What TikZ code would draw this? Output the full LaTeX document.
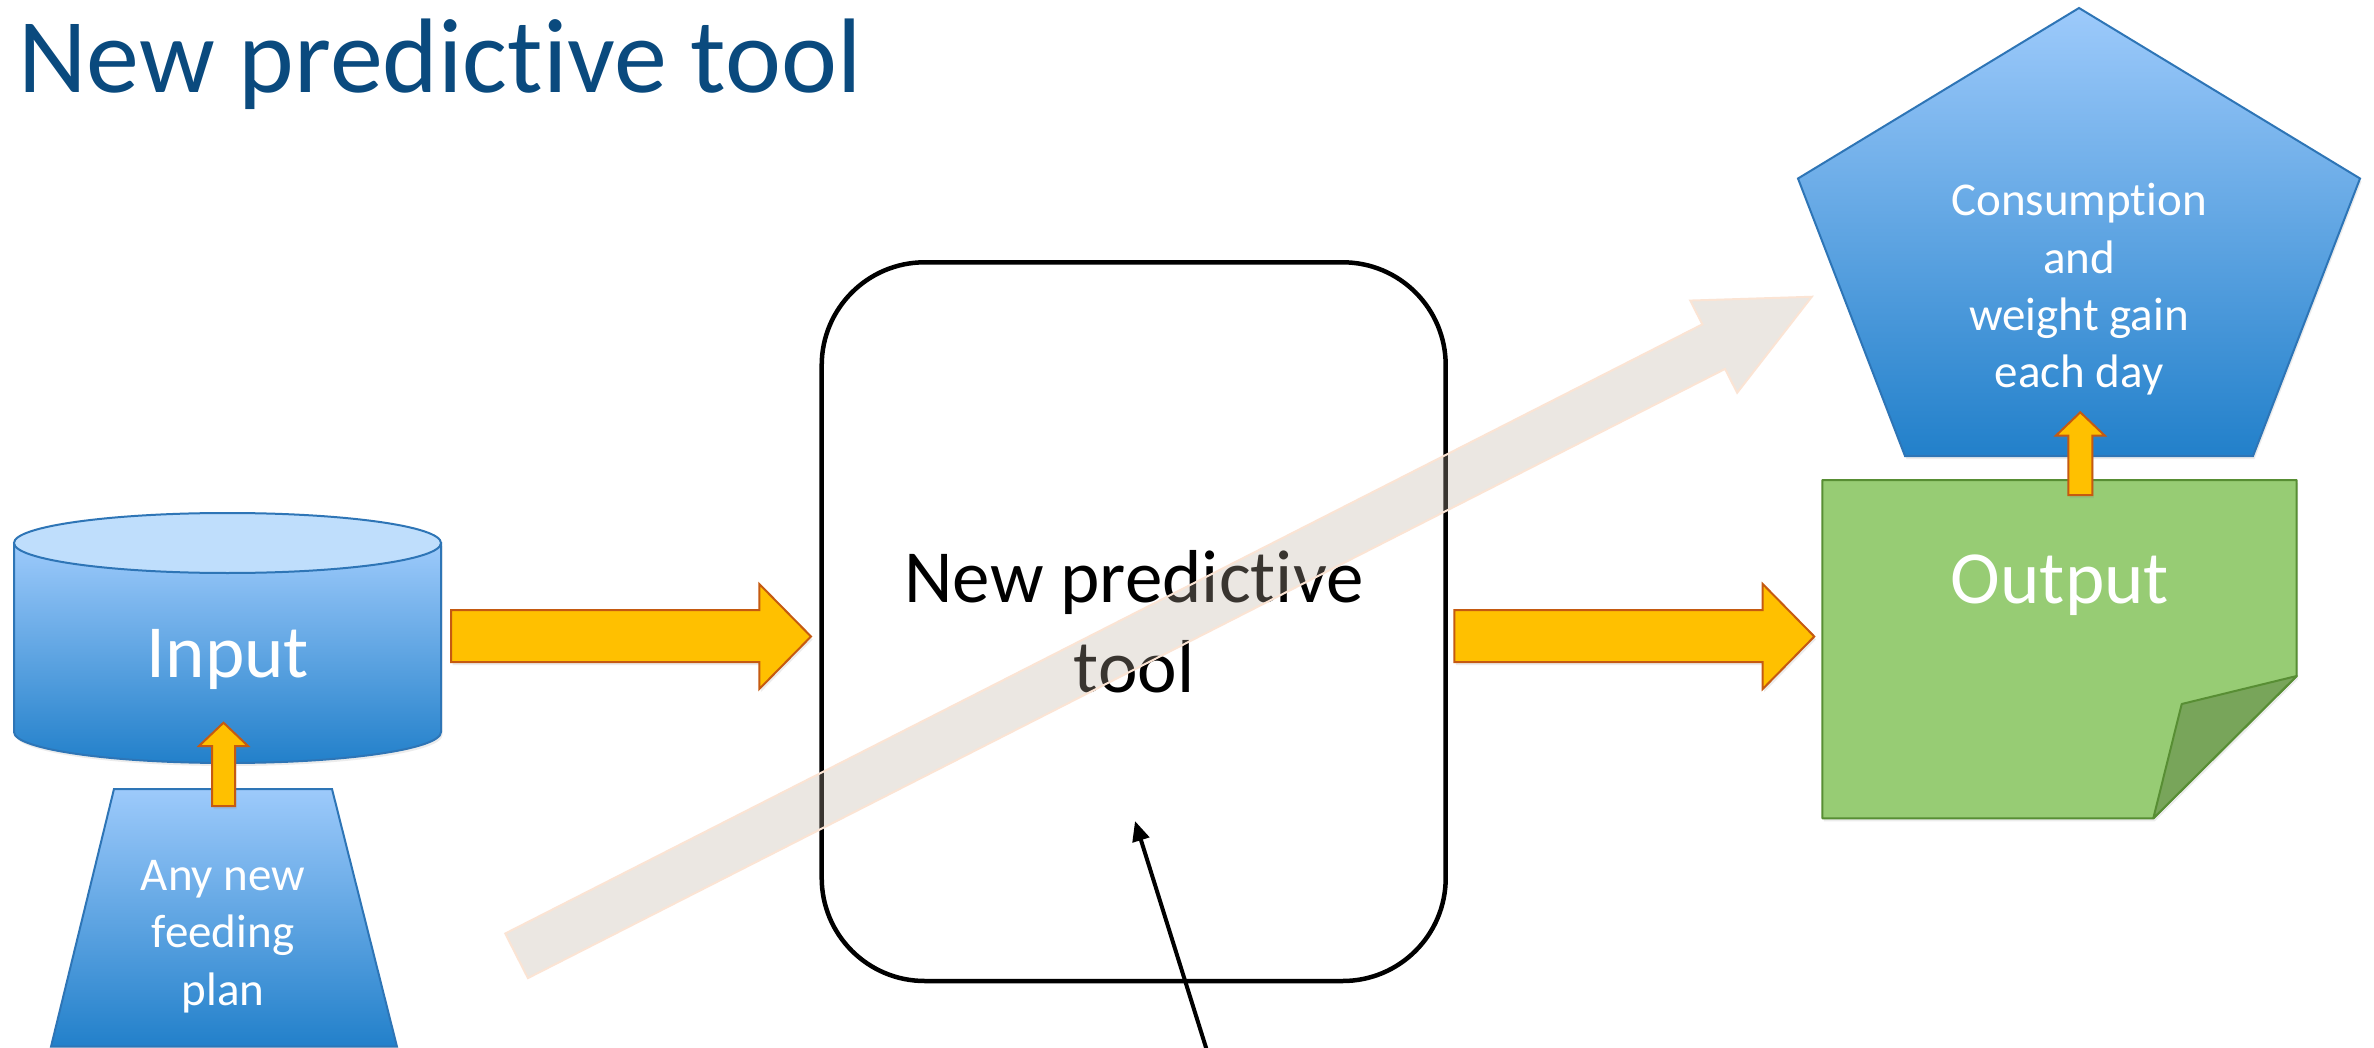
\documentclass[tikz,border=0pt]{standalone}
\usepackage{fontspec}
\setmainfont{Carlito}[Ligatures=NoCommon]
\usetikzlibrary{arrows.meta,shadows}
\definecolor{titleblue}{RGB}{10,74,126}
\definecolor{bluetop}{RGB}{157,202,251}
\definecolor{bluebot}{RGB}{34,128,202}
\definecolor{blueedge}{RGB}{46,117,182}
\definecolor{cyltop}{RGB}{191,222,252}
\definecolor{orfill}{RGB}{255,192,0}
\definecolor{oredge}{RGB}{197,90,17}
\definecolor{notefill}{RGB}{151,204,116}
\definecolor{noteedge}{RGB}{88,142,52}
\definecolor{notefold}{RGB}{120,165,90}
\definecolor{grayarrow}{RGB}{190,176,162}
\definecolor{peach}{RGB}{251,228,212}
\begin{document}
\begin{tikzpicture}[x=1pt,y=-1pt,
  softshadow/.style={drop shadow={opacity=0.15, shadow xshift=1.5pt, shadow yshift=-3pt}},
  blueshape/.style={top color=bluetop, bottom color=bluebot, draw=blueedge, line width=2pt, line join=miter},
  blockarrow/.style={fill=orfill, draw=oredge, line width=2pt, line join=miter, softshadow},
  whitetext/.style={text=white, inner sep=0pt, align=center, anchor=base},
  bigfont/.style={font=\fontsize{75}{90}\selectfont},
  smallfont/.style={font=\fontsize{47}{57.3}\selectfont}]
\path[use as bounding box, fill=white] (0,0) rectangle (2374,1048);

% title
\node[anchor=base west, inner sep=0pt, text=titleblue, font=\fontsize{106}{127}\selectfont] (title) at (18,93) {New predictive tool};

% input cylinder
\shadedraw[blueshape, softshadow] (14,543) -- (14,732) .. controls (14,749.1) and (109.6,763) .. (227.5,763) .. controls (345.4,763) and (441,749.1) .. (441,732) -- (441,543) -- cycle;
\filldraw[fill=cyltop, draw=blueedge, line width=2pt] (227.5,543) ellipse [x radius=213.5, y radius=30];
\node[whitetext, bigfont] (input) at (228,677.7) {Input};

% feeding plan trapezoid
\shadedraw[blueshape] (114,789) -- (332,789) -- (397,1046.7) -- (51,1046.7) -- cycle;
\node[whitetext, smallfont] (plan) at (223,1005) {Any new\\feeding\\plan};

% up arrow plan -> input
\draw[blockarrow] (212,806) -- (212,746) -- (199,746) -- (223.5,722.7) -- (248,746) -- (235,746) -- (235,806) -- cycle;

% arrow input -> tool
\draw[blockarrow] (451,610) -- (759.3,610) -- (759.3,584) -- (811,636.5) -- (759.3,689) -- (759.3,662) -- (451,662) -- cycle;

% tool box
\draw[line width=4.5pt, rounded corners=103pt] (821.7,262.3) rectangle (1445.7,981);
\node[align=center, anchor=base, inner sep=0pt, bigfont] (tool) at (1134,692) {New predictive\\tool};

% arrow tool -> output
\draw[blockarrow] (1454.3,610) -- (1762.7,610) -- (1762.7,584) -- (1814.3,636.5) -- (1762.7,689) -- (1762.7,662) -- (1454.3,662) -- cycle;

% output note
\filldraw[fill=notefill, draw=noteedge, line width=2pt, line join=round, softshadow] (1822.3,480) -- (2296.7,480) -- (2296.7,676) -- (2153.3,818.3) -- (1822.3,818.3) -- cycle;
\filldraw[fill=notefold, draw=noteedge, line width=2pt, line join=round] (2296.7,676) -- (2181.7,704) -- (2153.3,818.3) -- cycle;
\node[whitetext, bigfont] (output) at (2060,603.3) {Output};

% pentagon
\shadedraw[blueshape, softshadow] (2079,8) -- (2360,178.5) -- (2253,456) -- (1905,456) -- (1798,178.5) -- cycle;
\node[whitetext, smallfont] (result) at (2079,387.7) {Consumption\\and\\weight gain\\each day};

% up arrow output -> pentagon
\draw[blockarrow] (2068.3,495) -- (2068.3,435.7) -- (2055.8,435.7) -- (2080.3,412.3) -- (2104.8,435.7) -- (2092.3,435.7) -- (2092.3,495) -- cycle;

% translucent diagonal arrow
\begin{scope}[shift={(516.6,955.8)}, rotate=26.97]
\filldraw[fill=grayarrow, fill opacity=0.3, draw=peach, line width=2pt, line join=miter] (0,-25) -- (1343.2,-25) -- (1343.2,-51.7) -- (1453.2,0) -- (1343.2,51.7) -- (1343.2,25) -- (0,25) -- cycle;
\end{scope}

% black pointer arrow
\coordinate (pinstart) at (1208,1054);
\coordinate (pinend) at (1135,821);
\draw[line width=4pt, -{Triangle[length=20pt,width=17pt]}] (pinstart) -- (pinend);
\end{tikzpicture}
\end{document}
